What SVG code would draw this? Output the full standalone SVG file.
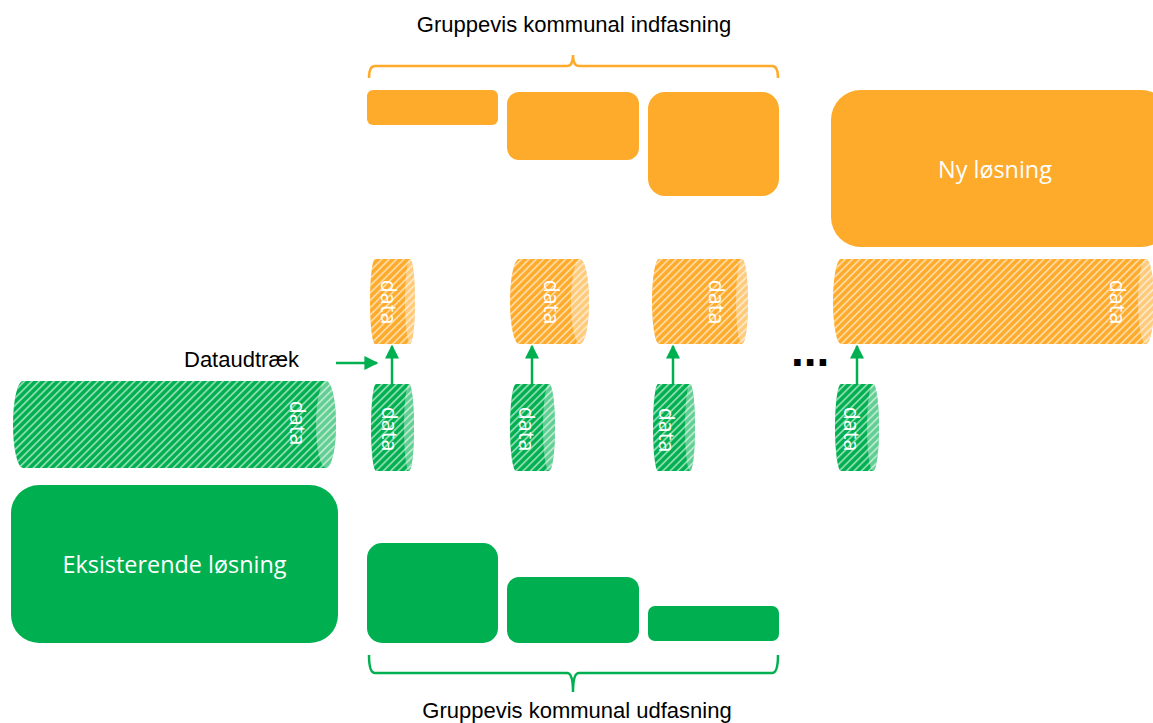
<svg xmlns="http://www.w3.org/2000/svg" width="1153" height="723" viewBox="0 0 1153 723">
<style>
.lbl{font-family:"Liberation Sans",Arial,sans-serif;font-size:22px;fill:#000}
.box{font-family:"Open Sans","Noto Sans",sans-serif;font-size:23.4px;fill:#fff}
.dat{font-family:"Open Sans","Noto Sans",sans-serif;font-size:21.5px;fill:#fff}
.og{fill:#FEAB2B}
.gr{fill:#00B050}
.hatch{fill:url(#hatch)}
.capw{fill:#fff;fill-opacity:.38}
.conn{stroke:#00B050;stroke-width:2.5;fill:none}
.brace-o{stroke:#FEAB2B;stroke-width:2.5;fill:none}
.brace-g{stroke:#00B050;stroke-width:2.5;fill:none}
</style>
<defs>
<pattern id="hatch" patternUnits="userSpaceOnUse" width="5.2" height="5.2" patternTransform="rotate(45)">
<rect x="0" y="0" width="1.8" height="5.2" fill="#fff" fill-opacity=".55"/>
</pattern>
<marker id="ah" viewBox="0 0 10 10" refX="9" refY="5" markerWidth="5.6" markerHeight="5.6" orient="auto" markerUnits="strokeWidth">
<path d="M0,0 L10,5 L0,10 Z" fill="#00B050"/>
</marker>
</defs>
<rect width="1153" height="723" fill="#fff"/>

<text class="lbl" x="574" y="32" text-anchor="middle">Gruppevis kommunal indfasning</text>
<path class="brace-o" d="M369,78 Q369,66 375,66 L567,66 Q573,66 573,55 Q573,66 579,66 L772,66 Q778,66 778,78"/>

<g id="top1"><rect class="og" x="367" y="90" width="131" height="35" rx="6"/></g>
<g id="top2"><rect class="og" x="507" y="92" width="132" height="68" rx="12"/></g>
<g id="top3"><rect class="og" x="648" y="92" width="131" height="104" rx="17"/></g>
<g id="ny"><rect class="og" x="831" y="90" width="340" height="157" rx="30"/>
<text class="box" x="995" y="178" text-anchor="middle">Ny løsning</text></g>

<!-- orange cylinders -->
<g id="ocyl1">
<path class="og" d="M375,259 L410,259 A5,42.5 0 0 1 410,344 L375,344 A5,42.5 0 0 1 375,259 Z"/>
<path class="hatch" d="M375,259 L410,259 A5,42.5 0 0 1 410,344 L375,344 A5,42.5 0 0 1 375,259 Z"/>
<ellipse class="capw" cx="410" cy="301.5" rx="5" ry="42.5"/>
<text class="dat" transform="translate(389,302) rotate(90)" text-anchor="middle" dominant-baseline="central">data</text>
</g>
<g id="ocyl2">
<path class="og" d="M519,259 L580,259 A9,42.5 0 0 1 580,344 L519,344 A9,42.5 0 0 1 519,259 Z"/>
<path class="hatch" d="M519,259 L580,259 A9,42.5 0 0 1 580,344 L519,344 A9,42.5 0 0 1 519,259 Z"/>
<ellipse class="capw" cx="580" cy="301.5" rx="9" ry="42.5"/>
<text class="dat" transform="translate(552,302) rotate(90)" text-anchor="middle" dominant-baseline="central">data</text>
</g>
<g id="ocyl3">
<path class="og" d="M659,259 L742,259 A6,42.5 0 0 1 742,344 L659,344 A7,42.5 0 0 1 659,259 Z"/>
<path class="hatch" d="M659,259 L742,259 A6,42.5 0 0 1 742,344 L659,344 A7,42.5 0 0 1 659,259 Z"/>
<ellipse class="capw" cx="742" cy="301.5" rx="6" ry="42.5"/>
<text class="dat" transform="translate(717,302) rotate(90)" text-anchor="middle" dominant-baseline="central">data</text>
</g>
<g id="ocyl4">
<path class="og" d="M841,259 L1146,259 A8,42.5 0 0 1 1146,344 L841,344 A8,42.5 0 0 1 841,259 Z"/>
<path class="hatch" d="M841,259 L1146,259 A8,42.5 0 0 1 1146,344 L841,344 A8,42.5 0 0 1 841,259 Z"/>
<ellipse class="capw" cx="1146" cy="301.5" rx="8" ry="42.5"/>
<text class="dat" transform="translate(1118,302) rotate(90)" text-anchor="middle" dominant-baseline="central">data</text>
</g>

<!-- green cylinders -->
<g id="gbig">
<path class="gr" d="M23,381 L326,381 A10,43.5 0 0 1 326,468 L23,468 A10,43.5 0 0 1 23,381 Z"/>
<path class="hatch" d="M23,381 L326,381 A10,43.5 0 0 1 326,468 L23,468 A10,43.5 0 0 1 23,381 Z"/>
<ellipse class="capw" cx="326" cy="424.5" rx="10" ry="43.5"/>
<text class="dat" transform="translate(298,423) rotate(90)" text-anchor="middle" dominant-baseline="central">data</text>
</g>
<g id="gcyl1">
<path class="gr" d="M376,384 L409,384 A5,43.5 0 0 1 409,471 L376,471 A5,43.5 0 0 1 376,384 Z"/>
<path class="hatch" d="M376,384 L409,384 A5,43.5 0 0 1 409,471 L376,471 A5,43.5 0 0 1 376,384 Z"/>
<ellipse class="capw" cx="409" cy="427.5" rx="5" ry="43.5"/>
<text class="dat" transform="translate(390,429) rotate(90)" text-anchor="middle" dominant-baseline="central">data</text>
</g>
<g id="gcyl2">
<path class="gr" d="M516,384 L549,384 A6,43.5 0 0 1 549,471 L516,471 A6,43.5 0 0 1 516,384 Z"/>
<path class="hatch" d="M516,384 L549,384 A6,43.5 0 0 1 549,471 L516,471 A6,43.5 0 0 1 516,384 Z"/>
<ellipse class="capw" cx="549" cy="427.5" rx="6" ry="43.5"/>
<text class="dat" transform="translate(527,429) rotate(90)" text-anchor="middle" dominant-baseline="central">data</text>
</g>
<g id="gcyl3">
<path class="gr" d="M658,384 L690,384 A5,43.5 0 0 1 690,471 L658,471 A5,43.5 0 0 1 658,384 Z"/>
<path class="hatch" d="M658,384 L690,384 A5,43.5 0 0 1 690,471 L658,471 A5,43.5 0 0 1 658,384 Z"/>
<ellipse class="capw" cx="690" cy="427.5" rx="5" ry="43.5"/>
<text class="dat" transform="translate(667,430) rotate(90)" text-anchor="middle" dominant-baseline="central">data</text>
</g>
<g id="gcyl4">
<path class="gr" d="M841,384 L873,384 A6,43.5 0 0 1 873,471 L841,471 A6,43.5 0 0 1 841,384 Z"/>
<path class="hatch" d="M841,384 L873,384 A6,43.5 0 0 1 873,471 L841,471 A6,43.5 0 0 1 841,384 Z"/>
<ellipse class="capw" cx="873" cy="427.5" rx="6" ry="43.5"/>
<text class="dat" transform="translate(852,429) rotate(90)" text-anchor="middle" dominant-baseline="central">data</text>
</g>

<g id="dataudtraek"><text class="lbl" x="184" y="367">Dataudtræk</text></g>
<g id="dots"><text x="791" y="366" style="font-family:'Liberation Sans',Arial,sans-serif;font-size:46px;font-weight:bold;fill:#000">...</text></g>

<g id="connectors">
<line class="conn" x1="336" y1="363" x2="377" y2="363" marker-end="url(#ah)"/>
<line class="conn" x1="392" y1="384" x2="392" y2="346" marker-end="url(#ah)"/>
<line class="conn" x1="532" y1="384" x2="532" y2="346" marker-end="url(#ah)"/>
<line class="conn" x1="673" y1="384" x2="673" y2="346" marker-end="url(#ah)"/>
<line class="conn" x1="857" y1="384" x2="857" y2="346" marker-end="url(#ah)"/>
</g>

<g id="eks"><rect class="gr" x="11" y="485" width="327" height="158" rx="28"/>
<text class="box" x="174.5" y="573" text-anchor="middle">Eksisterende løsning</text></g>
<g id="bot1"><rect class="gr" x="367" y="543" width="131" height="100" rx="15"/></g>
<g id="bot2"><rect class="gr" x="507" y="577" width="132" height="66" rx="12"/></g>
<g id="bot3"><rect class="gr" x="648" y="606" width="131" height="35" rx="7"/></g>

<path class="brace-g" d="M369,655 Q369,673 375,673 L567,673 Q573,673 573,692 Q573,673 579,673 L772,673 Q778,673 778,655"/>
<text class="lbl" x="577" y="718" text-anchor="middle">Gruppevis kommunal udfasning</text>
</svg>
